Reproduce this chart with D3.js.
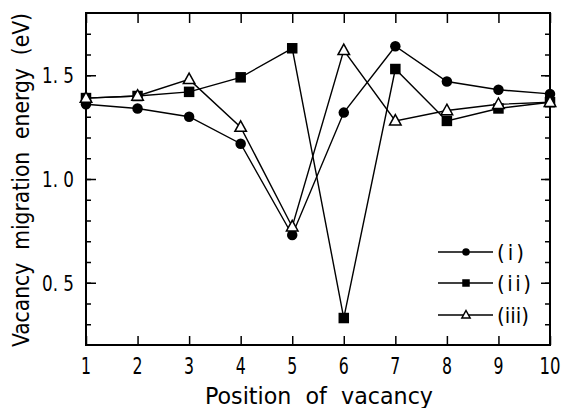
<!DOCTYPE html>
<html>
<head>
<meta charset="utf-8">
<script src="https://cdn.jsdelivr.net/npm/d3@7"></script>
<style>
  body { margin: 0; background: #fff; }
  text { font-family: "DejaVu Sans Condensed", "DejaVu Sans", sans-serif; fill: #000; white-space: pre; }
</style>
</head>
<body>
<svg id="chart"></svg>
<script>
// data
const positions = [1, 2, 3, 4, 5, 6, 7, 8, 9, 10]
const seriesI   = [1.36, 1.34, 1.30, 1.17, 0.73, 1.32, 1.64, 1.47, 1.43, 1.41]
const seriesII  = [1.39, 1.40, 1.42, 1.49, 1.63, 0.33, 1.53, 1.28, 1.34, 1.37]
const seriesIII = [1.39, 1.40, 1.48, 1.25, 0.77, 1.62, 1.28, 1.33, 1.36, 1.37]
const seriesNames = ["(i)", "(ii)", "(iii)"]
const yTickLabels = [0.5, 1.0, 1.5]

const width = 565, height = 408
const margin = { top: 13, right: 15, bottom: 63, left: 86 }
const plotW = width - margin.left - margin.right
const plotH = height - margin.top - margin.bottom

const svg = d3.select("#chart")
    .attr("width", width)
    .attr("height", height)

const g = svg.append("g")
    .attr("transform", `translate(${margin.left}, ${margin.top})`)

const x = d3.scaleLinear().domain([1, 10]).range([0, plotW])
const y = d3.scaleLinear().domain([0.2, 1.8]).range([plotH, 0])

// inward ticks on all four sides
const xTicks = positions
const yMinor = d3.range(3, 18).map(d => d / 10)

g.append("g").call(d3.axisBottom(x).tickValues(xTicks).tickSize(-9).tickFormat(""))
    .attr("transform", `translate(0, ${plotH})`)
g.append("g").call(d3.axisTop(x).tickValues(xTicks).tickSize(-10).tickFormat(""))
g.append("g").call(d3.axisLeft(y).tickValues(yMinor).tickSize(-5).tickFormat(""))
g.append("g").call(d3.axisLeft(y).tickValues(yTickLabels).tickSize(-10).tickFormat(""))
g.append("g").call(d3.axisRight(y).tickValues(yMinor).tickSize(-5).tickFormat(""))
    .attr("transform", `translate(${plotW}, 0)`)
g.append("g").call(d3.axisRight(y).tickValues(yTickLabels).tickSize(-9).tickFormat(""))
    .attr("transform", `translate(${plotW}, 0)`)
g.selectAll(".domain").remove()
g.selectAll(".tick line").attr("stroke", "#000").attr("stroke-width", 1.5)

g.append("rect")
    .attr("width", plotW).attr("height", plotH)
    .attr("fill", "none").attr("stroke", "#000").attr("stroke-width", 2)

// tick labels (narrow, tall glyphs like the original)
g.selectAll(".xlab")
    .data(xTicks)
    .enter().append("text")
    .attr("x", d => x(d))
    .attr("y", plotH + 29)
    .attr("text-anchor", "middle")
    .style("font-size", "23px")
    .attr("textLength", d => d < 10 ? 10 : 21)
    .attr("lengthAdjust", "spacingAndGlyphs")
    .text(d => d)

g.selectAll(".ylab")
    .data(yTickLabels)
    .enter().append("text")
    .attr("x", -12)
    .attr("y", d => y(d) + 8)
    .attr("text-anchor", "end")
    .style("font-size", "22px")
    .attr("textLength", 32)
    .attr("lengthAdjust", "spacingAndGlyphs")
    .text(d => d.toFixed(1).replace(".", ". "))

// axis titles
svg.append("text")
    .attr("x", 205).attr("y", 404)
    .style("font-size", "23px")
    .attr("textLength", 228)
    .attr("lengthAdjust", "spacingAndGlyphs")
    .text("Position  of  vacancy")

svg.append("text")
    .attr("transform", "translate(29, 347) rotate(-90)")
    .style("font-size", "23px")
    .attr("textLength", 334)
    .attr("lengthAdjust", "spacingAndGlyphs")
    .text("Vacancy  migration  energy  (eV)")

// series
const series = [seriesI, seriesII, seriesIII]
const line = d3.line().x((d, i) => x(positions[i])).y(d => y(d))

series.forEach(s => {
    g.append("path")
        .datum(s)
        .attr("d", line)
        .attr("fill", "none")
        .attr("stroke", "#000")
        .attr("stroke-width", 1.4)
})

const drawMarker = (sel, k, size) => {
    if (k === 0) {
        sel.append("circle").attr("r", size / 2).attr("fill", "#000")
    } else if (k === 1) {
        sel.append("rect")
            .attr("x", -size / 2).attr("y", -size / 2)
            .attr("width", size).attr("height", size)
            .attr("fill", "#000")
    } else {
        const h = size
        sel.append("path")
            .attr("d", `M0,${-h * 0.6}L${h * 0.55},${h * 0.4}L${-h * 0.55},${h * 0.4}Z`)
            .attr("fill", "#fff")
            .attr("stroke", "#000")
            .attr("stroke-width", 1.5)
    }
}

series.forEach((s, k) => {
    g.append("g")
        .selectAll("g")
        .data(s)
        .enter().append("g")
        .attr("transform", (d, i) => `translate(${x(positions[i])}, ${y(d)})`)
        .each(function () { drawMarker(d3.select(this), k, 10.5) })
})

// legend
const legY = [252, 283, 315]
const legW = [27, 34, 32]
seriesNames.forEach((name, k) => {
    const lg = svg.append("g").attr("transform", `translate(0, ${legY[k]})`)
    lg.append("line")
        .attr("x1", 438).attr("x2", 493)
        .attr("stroke", "#000").attr("stroke-width", 1.4)
    const m = lg.append("g").attr("transform", "translate(466, 0)")
    drawMarker(m, k, 7.5)
    lg.append("text")
        .attr("x", 497).attr("y", 8)
        .style("font-size", "22px")
        .attr("textLength", legW[k])
        .attr("lengthAdjust", "spacing")
        .text(name)
})
</script>
</body>
</html>
